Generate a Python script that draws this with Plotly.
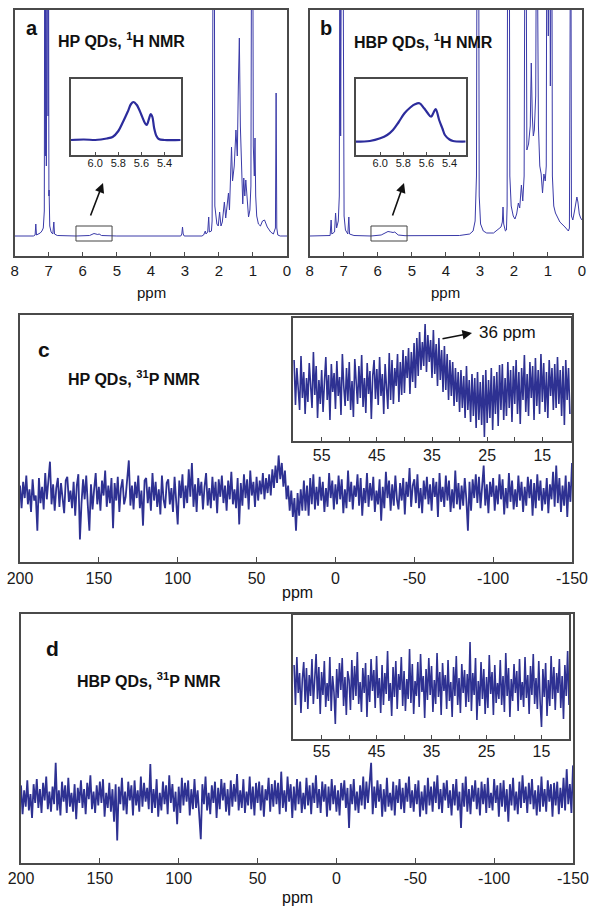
import numpy as np
import plotly.graph_objects as go

# ---------------- DATA ----------------
# Panel a: HP QDs 1H NMR (ppm, intensity in arbitrary units; 400 = off-scale)
a_ppm = [8.0, 7.45, 7.40, 7.38, 7.36, 7.25, 7.20, 7.16, 7.13, 7.115, 7.10, 7.09, 7.07, 7.04, 7.02, 7.01,
         6.995, 6.99, 6.97, 6.93, 6.88, 6.85, 6.83, 6.75, 6.2, 5.8, 5.67, 5.56, 5.52, 5.45, 5.0,
         3.12, 3.09, 3.07, 3.05, 3.02, 2.5, 2.45, 2.40, 2.38, 2.33, 2.30, 2.28, 2.22, 2.20, 2.18, 2.16,
         2.14, 2.12, 2.06, 2.02, 1.98, 1.94, 1.90, 1.84, 1.80, 1.76, 1.72, 1.69, 1.66, 1.63, 1.60, 1.55,
         1.50, 1.46, 1.43, 1.40, 1.37, 1.33, 1.30, 1.27, 1.24, 1.21, 1.17, 1.13, 1.09, 1.06, 1.035, 1.01,
         0.99, 0.96, 0.94, 0.92, 0.89, 0.84, 0.78, 0.72, 0.66, 0.58, 0.48, 0.40, 0.34, 0.32, 0.30, 0.27,
         0.2, 0.0]
a_int = [0, 0, 1, 12, 1, 3, 5, 8, 25, 400, 80, 400, 70, 400, 120, 400,
         40, 46, 10, 4, 2, 14, 2, 0.5, 0, 0.5, 2.5, 1.5, 2, 0.5, 0,
         0, 2, 9, 2, 0, 0, 1, 5, 2, 4, 19, 4, 5, 15, 400, 400,
         400, 30, 12, 10, 24, 10, 14, 34, 18, 28, 43, 26, 50, 89, 55, 70,
         106, 80, 150, 198, 110, 50, 32, 58, 40, 56, 35, 19, 26, 50, 400, 400,
         90, 60, 98, 40, 20, 12, 10, 15, 16, 9, 4, 2, 8, 143, 8, 1,
         0, 0]

# Panel b: HBP QDs 1H NMR
b_ppm = [8.0, 7.40, 7.37, 7.35, 7.27, 7.24, 7.21, 7.16, 7.13, 7.11, 7.09, 7.06, 7.03, 7.01, 6.99,
         6.95, 6.88, 6.85, 6.83, 6.7, 6.2, 5.9, 5.7, 5.62, 5.55, 5.5, 5.4, 5.2, 4.0, 3.6, 3.3, 3.2,
         3.14, 3.10, 3.08, 3.04, 3.02, 2.98, 2.9, 2.8, 2.6, 2.45, 2.38, 2.34, 2.32, 2.30, 2.25, 2.22,
         2.20, 2.18, 2.14, 2.12, 2.08, 2.02, 1.97, 1.92, 1.87, 1.83, 1.78, 1.74, 1.70, 1.67, 1.65, 1.62,
         1.57, 1.52, 1.49, 1.46, 1.43, 1.40, 1.36, 1.33, 1.31, 1.28, 1.24, 1.20, 1.16, 1.12, 1.08, 1.05,
         1.03, 1.01, 0.99, 0.97, 0.95, 0.93, 0.91, 0.89, 0.87, 0.83, 0.78, 0.65, 0.5, 0.40, 0.37, 0.35,
         0.33, 0.31, 0.27, 0.22, 0.18, 0.15, 0.12, 0.08, 0.04, 0.0]
b_int = [0, 0.5, 16, 2, 4, 23, 8, 15, 40, 400, 100, 400, 400, 60, 20,
         6, 2, 19, 2, 0.5, 0, 1, 4.5, 4, 3.5, 4, 1, 0.3, 0, 0.5, 2, 5,
         15, 60, 400, 400, 40, 12, 5, 3, 3, 7, 9, 14, 29, 12, 5, 6,
         30, 400, 400, 60, 30, 20, 17, 22, 33, 28, 51, 35, 60, 400, 400, 86,
         92, 110, 173, 120, 100, 106, 140, 400, 400, 110, 70, 62, 43, 62, 55, 70,
         400, 400, 200, 400, 400, 150, 400, 400, 60, 30, 23, 14, 9, 5, 8, 400,
         400, 20, 16, 25, 36, 39, 34, 22, 18, 16]

# Insets a / b: the 5.6 ppm vinyl region
ia_ppm = [6.21, 6.1, 6.0, 5.95, 5.9, 5.85, 5.80, 5.76, 5.72, 5.69, 5.67, 5.64, 5.60, 5.57, 5.555,
          5.535, 5.52, 5.505, 5.49, 5.47, 5.45, 5.4, 5.26]
ia_int = [15, 15.5, 15, 15.5, 16.5, 18, 24, 33, 43, 51, 53, 50, 40, 32, 30,
          36, 41, 38, 27, 19, 16, 15, 15]
ib_ppm = [6.21, 6.09, 6.0, 5.94, 5.89, 5.84, 5.79, 5.74, 5.70, 5.66, 5.62, 5.59, 5.56, 5.54,
          5.52, 5.49, 5.46, 5.44, 5.40, 5.37, 5.26]
ib_int = [13.3, 14, 16.7, 20, 25, 33, 41.7, 47.5, 50.7, 51.7, 46.7, 42, 38.3, 42,
          46, 35, 26, 20, 15.5, 14, 13.5]

# Panel c: HP QDs 31P NMR, 200 -> -150 ppm (1 ppm sampling)
c_int = [6, -12, 9, -4, 14, -9, 3, -15, 11, -6,
         -2, -30, 12, -8, 5, -13, 16, -5, 10, 25,
         -9, 7, -14, 4, 12, -11, 8, -3, -16, 10,
         13, -7, 2, -12, 9, -18, 6, 15, -37, -8,
         11, -5, 14, -10, -30, 7, -13, 3, 16, -9,
         5, -14, 10, -2, 18, -11, 6, -8, 12, -28,
         8, -6, 13, -15, 4, 11, -9, -3, 15, 26,
         -10, 6, -13, 9, -4, 14, -12, 2, -26, 10,
         12, -8, 5, -14, 16, -6, 9, -11, 3, -17,
         14, -5, -12, 8, 11, -9, 4, -15, 13, -7,
         -25, 10, -4, 15, -12, 6, -8, 19, -3, 24,
         -11, 7, -15, 12, -2, 9, -13, 5, 16, -10,
         4, -12, 13, -6, 9, -16, 11, -3, 14, -8,
         6, -14, 10, -5, 17, -9, 3, -12, 12, -25,
         8, -10, 15, -4, 11, -13, 18, -2, 9, -11,
         13, -6, 10, -1, 16, -5, 12, 0, 15, -2,
         19, 4, 22, 8, 30, 11, 24, 5, 18, -5,
         6, -14, 2, -19, -4, -30, 0, -18, 3, -14,
         10, -14, 6, -18, 12, -9, 15, -13, 5, -10,
         13, -6, 9, -15, 4, -11, 16, -4, 10, -13,
         7, -9, 14, -5, 11, -16, 3, -12, 18, -7,
         9, -13, 6, -3, 15, -10, 12, -18, 4, -8,
         16, -11, 8, -6, 13, -15, 2, -9, 11, -22,
         5, -12, 17, -4, 10, -14, 7, -10, 14, -5,
         -13, 8, -6, 12, -17, 9, -3, 20, -11, 6,
         11, -8, 15, -12, 4, -16, 10, -5, 13, -9,
         7, -14, 12, -3, 9, -19, 16, -7, 5, -11,
         14, -6, 10, -15, 3, -12, 18, -9, 8, -13,
         6, -10, 12, -5, -30, 9, -14, 11, -4, 15,
         -8, 13, -12, 5, 22, -10, 7, -16, 9, -3,
         12, -14, 6, -9, 15, -5, 11, -17, 4, -12,
         16, -7, 10, -13, 3, -11, 14, -6, 9, -15,
         5, -10, 13, -4, 11, -18, 8, -12, 15, -6,
         10, -14, 4, -9, 12, -16, 7, -5, 17, -11,
         22, -8, 12, -15, 6, -10, 14, -19, 9, -7,
         24]

# Inset c: 60 -> 10 ppm (0.25 ppm sampling)
ic_int = [30, -15, 22, 5, -20, 34, -8, 18, -24, 12,
          -12, 27, 0, -18, 38, -5, 24, -28, 10, -14,
          20, -22, 8, 33, -10, 15, -30, 26, -2, 17,
          -19, 29, -6, 13, -25, 36, 4, -16, 22, -11,
          28, -20, 9, -27, 31, 2, -14, 24, -8, 35,
          -17, 12, -23, 27, -4, 19, -29, 14, 30, -9,
          21, -15, 33, -6, 16, -24, 26, 3, -19, 37,
          -10, 30, -14, 22, 4, 36, -12, 28, -5, 40,
          -3, 34, 12, 42, -4, 38, 8, 47, 2, 52,
          14, 58, 20, 48, 24, 66, 18, 55, 28, 50,
          12, 60, 16, 46, 4, 52, 10, 40, -2, 44,
          0, 36, -10, 30, -6, 28, -16, 22, -12, 18,
          -22, 20, -18, 14, -28, 24, -20, 10, -32, 16,
          -26, 12, -38, 18, -30, 8, -35, 15, -47, 20,
          -33, 10, -28, 22, -40, 14, -24, 18, -36, 25,
          -20, 26, -30, 12, -26, 28, -18, 20, -32, 24,
          -14, 30, -24, 18, -34, 22, -10, 35, -22, 16,
          -26, 28, -8, 24, -30, 32, -16, 20, -24, 36,
          -12, 27, -22, 18, -28, 30, -6, 22, -20, 26,
          -18, 33, -14, 20, -26, 24, -35, 30, -10, 22,
          -24]

# Panel d: HBP QDs 31P NMR, 200 -> -150 ppm (1 ppm sampling)
d_int = [9, -14, 5, -8, 13, -11, 2, -17, 10, -5,
         14, -9, 6, -13, 11, -3, 16, -10, 4, -12,
         8, -6, 27, -11, 5, -15, 12, -4, 9, -13,
         15, -8, 3, -12, 10, -18, 7, -5, 13, -9,
         6, -14, 11, -2, 17, -10, 4, -13, 9, -7,
         12, -5, 14, -16, 3, -9, 11, -12, 6, -20,
         10, -35, 8, -6, 15, -11, 4, -14, 12, -3,
         9, -15, 13, -7, 5, -12, 16, -8, 11, -4,
         7, -10, 26, -13, 6, -9, 14, -16, 3, -11,
         12, -6, 9, -14, 17, -5, 10, -12, 4, -22,
         8, -13, 15, -7, 11, -4, 13, -15, 6, -10,
         14, -9, 5, -12, -34, 10, -6, 16, -11, 3,
         -14, 9, -5, 12, -17, 7, -10, 14, -3, 11,
         -12, 6, -15, 13, -8, 10, -4, 18, -11, 5,
         -9, 14, -13, 4, -7, 16, -10, 8, -15, 11,
         -5, 12, -11, 9, -16, 6, -3, 15, -12, 10,
         -8, 13, -6, 11, -14, 20, -9, 5, -12, 16,
         -4, 10, -17, 8, -11, 14, -6, 12, -13, 3,
         -10, 15, -7, 9, -14, 11, -5, 17, -9, 6,
         -13, 12, -4, 10, -16, 8, -11, 14, -6, 9,
         -12, 5, -15, 11, -3, 13, -9, 7, -25, 10,
         -6, 14, -11, 4, -13, 9, -7, 16, -10, 12,
         -5, 11, 27, -14, 8, -9, 13, -4, 10, -16,
         6, -12, 15, -8, 3, -11, 12, -15, 9, -5,
         14, -10, 7, -13, 11, -4, 16, -9, 5, -12,
         10, -6, 13, -16, 4, -11, 9, -14, 15, -7,
         8, -12, 12, -5, 17, -10, 6, -13, 11, -3,
         13, -9, 5, -15, 10, -7, 14, -11, 4, -25,
         11, -8, 16, -12, 6, -14, 9, -4, 13, -10,
         7, -15, 12, -6, 10, -13, 15, -9, 3, -11,
         14, -5, 9, -16, 11, -8, 13, -12, 6, -20,
         10, -7, 15, -11, 4, -14, 12, -9, 17, -5,
         8, -13, 11, -6, 14, -10, 5, -15, 9, -12,
         16, -8, 6, -12, 13, -4, 10, -16, 11, -7,
         12, -14, 7, -9, 15, -11, 22, -6, 10, -13,
         25]

# Inset d: 60 -> 10 ppm (0.25 ppm sampling)
id_int = [22, -18, 30, -6, 14, -26, 8, 25, -15, 19,
          -22, 12, -9, 28, -17, 6, 33, -12, 20, -27,
          15, -8, 26, -20, 4, -14, 30, -24, 11, -5,
          -37, 18, -11, 24, -3, 29, -19, 10, -28, 16,
          7, -23, 27, -13, 21, -9, 35, -17, 5, -25,
          19, -6, 24, -30, 12, -15, 28, -4, 17, -21,
          31, -11, 9, -26, 22, -18, 14, -7, 36, -14,
          4, -29, 20, -10, 26, -22, 13, -3, 30, -19,
          16, -24, 8, -12, 38, -16, 23, -27, 6, -9,
          25, -20, 33, -5, 11, -31, 18, -13, 29, -8,
          21, -25, 7, -17, 34, -10, 15, -28, 24, -4,
          12, -22, 27, -14, 5, -30, 20, -9, 31, -18,
          9, -26, 23, -6, 17, -20, 13, -15, 45, -24,
          14, -8, 29, -33, 6, -19, 25, -12, 18, -27,
          10, -21, 32, -7, 15, -28, 22, -16, 4, -12,
          27, -18, 11, -25, 34, -9, 19, -30, 8, -14,
          23, -6, 16, -24, 28, -13, 5, -20, 30, -11,
          12, -27, 21, -8, 33, -17, 9, -22, 26, -15,
          -40, 18, -10, 24, -29, 7, -19, 31, -12, 20,
          -23, 14, -6, 28, -21, 11, -32, 22, -9, 36,
          -18]

p_ppm = np.linspace(200, -150, len(c_int))
pd_ppm = np.linspace(200, -150, len(d_int))
ic_ppm = np.linspace(60, 10, len(ic_int))
id_ppm = np.linspace(60, 10, len(id_int))

h_ticks = [8, 7, 6, 5, 4, 3, 2, 1, 0]
inset_h_ticks = [6.0, 5.8, 5.6, 5.4]
p_ticks = [200, 150, 100, 50, 0, -50, -100, -150]
inset_p_ticks = [55, 45, 35, 25, 15]
inset_p_minor = [50, 40, 30, 20]
zoom_box_x = [6.2, 5.14]
zoom_box_y = [-5, 10]

# ---------------- STYLE ----------------
W, H = 595, 907
FONT = "Liberation Sans, Arial, sans-serif"
FRAME = "#4a4a4a"
LINE = "#3a3aa8"
NOISE = "#2e3192"


def px(x0, x1):
    return [x0 / W, x1 / W]


def py(top, bottom):
    return [1 - bottom / H, 1 - top / H]


def xaxis(domain, rng, anchor, tickvals, fs, ticklen=5, standoff=0, minor=None):
    d = dict(domain=domain, range=rng, anchor=anchor, showline=True, mirror=True,
             linecolor=FRAME, linewidth=1.5, ticks="inside", ticklen=ticklen,
             tickcolor=FRAME, tickwidth=1, tickvals=tickvals,
             ticktext=[("%g" % v) if not isinstance(v, float) else ("%.1f" % v) for v in tickvals],
             tickfont=dict(size=fs, family=FONT, color="#1a1a1a"), automargin=False,
             showgrid=False, zeroline=False, ticklabelstandoff=standoff)
    if minor is not None:
        d["minor"] = dict(tickvals=minor, ticks="inside", ticklen=ticklen,
                          tickcolor=FRAME, tickwidth=1, showgrid=False)
    return d


def yaxis(domain, rng, anchor):
    return dict(domain=domain, range=rng, anchor=anchor, showline=True, mirror=True,
                linecolor=FRAME, linewidth=1.5, ticks="", showticklabels=False, automargin=False,
                showgrid=False, zeroline=False)


fig = go.Figure()

fig.add_trace(go.Scatter(x=a_ppm, y=a_int, mode="lines", line=dict(color=LINE, width=1), xaxis="x", yaxis="y"))
fig.add_trace(go.Scatter(x=ia_ppm, y=ia_int, mode="lines", line=dict(color="#2c2c9c", width=2.2, shape="spline"), xaxis="x2", yaxis="y2"))
fig.add_trace(go.Scatter(x=b_ppm, y=b_int, mode="lines", line=dict(color=LINE, width=1), xaxis="x3", yaxis="y3"))
fig.add_trace(go.Scatter(x=ib_ppm, y=ib_int, mode="lines", line=dict(color="#2c2c9c", width=2.2, shape="spline"), xaxis="x4", yaxis="y4"))
fig.add_trace(go.Scatter(x=p_ppm, y=c_int, mode="lines", line=dict(color=NOISE, width=1.8), xaxis="x5", yaxis="y5"))
fig.add_trace(go.Scatter(x=ic_ppm, y=ic_int, mode="lines", line=dict(color=NOISE, width=1.6), xaxis="x6", yaxis="y6"))
fig.add_trace(go.Scatter(x=pd_ppm, y=d_int, mode="lines", line=dict(color=NOISE, width=1.8), xaxis="x7", yaxis="y7"))
fig.add_trace(go.Scatter(x=id_ppm, y=id_int, mode="lines", line=dict(color=NOISE, width=1.6), xaxis="x8", yaxis="y8"))

layout = dict(width=W, height=H, margin=dict(l=0, r=0, t=0, b=0, autoexpand=False), showlegend=False,
              paper_bgcolor="white", plot_bgcolor="white", font=dict(family=FONT, color="#1a1a1a"))

layout["xaxis"] = xaxis(px(14.7, 287), [8, 0], "y", h_ticks, 15, ticklen=4, standoff=0)
layout["yaxis"] = yaxis(py(10, 256), [-20, 226], "x")
layout["xaxis2"] = xaxis(px(71, 180.7), [6.21, 5.26], "y2", inset_h_ticks, 11, ticklen=3, standoff=-3)
layout["yaxis2"] = yaxis(py(79.3, 155), [0, 75.7], "x2")
layout["xaxis3"] = xaxis(px(309.7, 582), [8, 0], "y3", h_ticks, 15, ticklen=4, standoff=0)
layout["yaxis3"] = yaxis(py(10, 256), [-20, 226], "x3")
layout["xaxis4"] = xaxis(px(356, 465.7), [6.21, 5.26], "y4", inset_h_ticks, 11, ticklen=3, standoff=-3)
layout["yaxis4"] = yaxis(py(79.3, 155), [0, 75.7], "x4")
layout["xaxis5"] = xaxis(px(20, 572), [200, -150], "y5", p_ticks, 16, ticklen=5, standoff=1)
layout["yaxis5"] = yaxis(py(315, 562), [-55, 142], "x5")
layout["xaxis6"] = xaxis(px(293, 571), [60.2, 9.8], "y6", inset_p_ticks, 16, ticklen=4, standoff=-1, minor=inset_p_minor)
layout["yaxis6"] = yaxis(py(317.7, 441), [-51, 72.3], "x6")
layout["xaxis7"] = xaxis(px(21, 573), [200, -150], "y7", p_ticks, 16, ticklen=5, standoff=0)
layout["yaxis7"] = yaxis(py(614, 863), [-53, 146], "x7")
layout["xaxis8"] = xaxis(px(293, 569), [60.2, 10], "y8", inset_p_ticks, 16, ticklen=4, standoff=-3, minor=inset_p_minor)
layout["yaxis8"] = yaxis(py(615, 739), [-52, 72], "x8")

fig.update_layout(**layout)

# zoom boxes around the 5.6 ppm region in panels a and b
for xr, yr in (("x", "y"), ("x3", "y3")):
    fig.add_shape(type="rect", xref=xr, yref=yr, x0=zoom_box_x[0], x1=zoom_box_x[1],
                  y0=zoom_box_y[0], y1=zoom_box_y[1], line=dict(color="#444", width=1))


def text(x, y, s, size, bold=False, anchor="left"):
    fig.add_annotation(xref="paper", yref="paper", x=x / W, y=1 - y / H, text=("<b>%s</b>" % s) if bold else s,
                       showarrow=False, xanchor=anchor, yanchor="middle",
                       font=dict(size=size, family=FONT, color="#111"), borderpad=0)


def arrow(x0, y0, x1, y1):
    fig.add_annotation(xref="paper", yref="paper", x=x1 / W, y=1 - y1 / H, ax=x0 - x1, ay=y0 - y1,
                       axref="pixel", ayref="pixel", text="", showarrow=True, arrowhead=2,
                       arrowsize=1.2, arrowwidth=1.6, arrowcolor="#111")


text(32, 28, "a", 20, True, "center")
text(57, 40, "HP QDs, <sup>1</sup>H NMR", 16, True)
text(326, 28, "b", 20, True, "center")
text(353, 41, "HBP QDs, <sup>1</sup>H NMR", 16, True)
text(44, 349, "c", 21, True, "center")
text(67, 378, "HP QDs, <sup>31</sup>P NMR", 16, True)
text(52, 648, "d", 21, True, "center")
text(76, 680, "HBP QDs, <sup>31</sup>P NMR", 16, True)

text(151, 293, "ppm", 15, False, "center")
text(445, 293, "ppm", 15, False, "center")
text(297, 592, "ppm", 16, False, "center")
text(297, 897, "ppm", 16, False, "center")

arrow(90, 217, 103, 183)
arrow(392, 217, 404, 183)
arrow(441, 339, 472, 333)
text(478, 333, "36 ppm", 17, False)

fig.write_html("out.html", config={"displayModeBar": False},
               post_script="document.body.style.margin='0';document.body.style.padding='0';"
                           "document.body.style.overflow='hidden';")
